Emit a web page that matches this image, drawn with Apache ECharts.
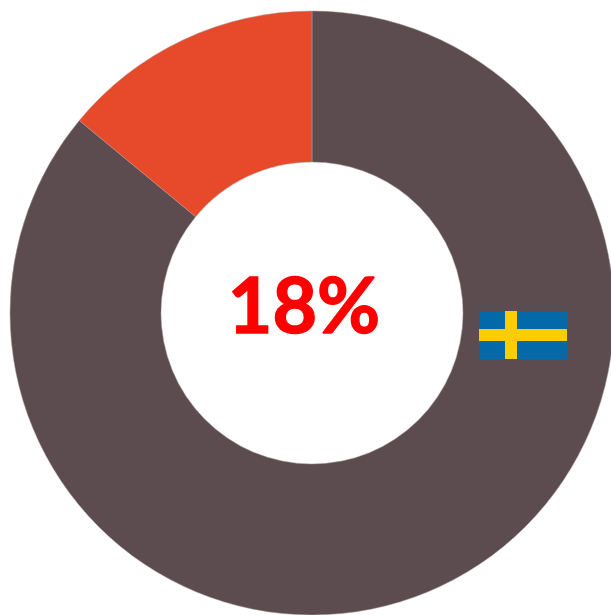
<!DOCTYPE html>
<html>
<head>
<meta charset="utf-8">
<style>
  html, body {margin: 0; padding: 0; background: #fff;}
  #chart {width: 611px; height: 615px;}
</style>
<script src="https://cdn.jsdelivr.net/npm/echarts@6/dist/echarts.min.js"></script>
</head>
<body>
<div id="chart"></div>
<script>
const slice_names = ["Rest", "Share"];
const slice_values = [86, 14];
const slice_colors = ["#5c4c4f", "#e64a2b"];
const center_label = "18%";

const chart = echarts.init(document.getElementById("chart"), null, {renderer: "canvas"});

// flag sits on top of the ring, not part of the data
function swedishFlag(){
  const blue = "#0469a8", yellow = "#fecc00";
  return {
    type: "group", x: 479, y: 311, z: 100,
    children: [
      {type: "rect", z: 100, shape: {x: 0, y: 0, width: 88, height: 48}, style: {fill: blue}},
      {type: "rect", z: 101, shape: {x: 26, y: 0, width: 12, height: 48}, style: {fill: yellow}},
      {type: "rect", z: 101, shape: {x: 0, y: 18, width: 88, height: 12}, style: {fill: yellow}}
    ]
  };
}

chart.setOption({
  animation: false,
  graphic: {elements: [swedishFlag()]},
  series: [{
    type: "pie",
    center: [312, 313],
    radius: [151, 302],
    startAngle: 90,
    clockwise: true,
    silent: true,
    label: {
      show: true, position: "center", formatter: center_label, offset: [-8, -5],
      fontFamily: "Lato", fontWeight: "bold", fontSize: 77, color: "#ff0000",
      textBorderColor: "#ff0000", textBorderWidth: 1.5
    },
    labelLine: {show: false},
    itemStyle: {borderColor: "#a89c9c", borderWidth: 0.5},
    data: slice_names.map((name, i) => ({
      name, value: slice_values[i], itemStyle: {color: slice_colors[i]}
    }))
  }]
});
</script>
</body>
</html>
